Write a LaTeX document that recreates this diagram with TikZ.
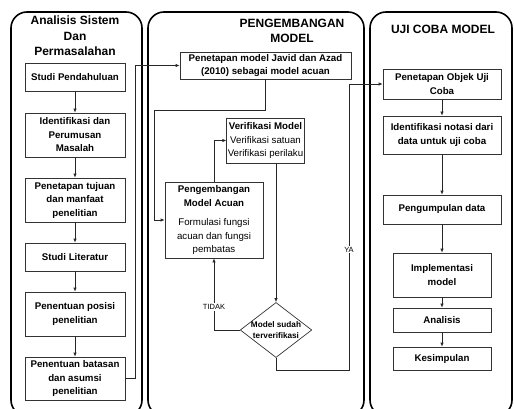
\documentclass[tikz,border=0pt]{standalone}
\usepackage{fontspec}
\setmainfont{Liberation Sans}
\usetikzlibrary{arrows.meta,shapes.geometric}

\begin{document}
\begin{tikzpicture}[x=1pt,y=-1pt,
  panel/.style={draw,line width=1.6pt,rounded corners=16pt},
  box/.style={draw=black!80,line width=0.7pt,align=center,inner sep=1pt,font=\fontsize{9.7}{13.5}\selectfont},
  bbox/.style={box,font=\fontsize{9.7}{13.5}\selectfont\bfseries},
  title/.style={align=center,font=\fontsize{12}{15.5}\selectfont\bfseries},
  decide/.style={draw=black!80,line width=0.7pt,diamond,aspect=1.3,inner sep=0pt,align=center,font=\fontsize{8.2}{10.5}\selectfont\bfseries},
  arr/.style={draw=black!85,line width=0.7pt,-{Latex[length=4pt,width=3.5pt]}},
  lbl/.style={fill=white,inner sep=1pt,font=\fontsize{7.5}{9}\selectfont}]
\useasboundingbox (0,0) rectangle (514,409);
\clip (0,0) rectangle (514,409);
\draw[panel] (11,12) rectangle (142,416);
\draw[panel] (148,12) rectangle (364,416);
\draw[panel] (370,12) rectangle (512,416);

\node[title] (t1) at (75,36) {Analisis Sistem\\Dan\\Permasalahan};
\node[title] (t2) at (292,31) {PENGEMBANGAN\\MODEL};
\node[title] (t3) at (443,29) {UJI COBA MODEL};

\node[bbox,minimum width=100pt,minimum height=28pt] (s1) at (75,77) {Studi Pendahuluan};
\node[bbox,minimum width=100pt,minimum height=44pt] (s2) at (75,135) {Identifikasi dan\\Perumusan\\Masalah};
\node[bbox,minimum width=100pt,minimum height=44pt] (s3) at (75,200) {Penetapan tujuan\\dan manfaat\\penelitian};
\node[bbox,minimum width=100pt,minimum height=28pt] (s4) at (75,257) {Studi Literatur};
\node[bbox,minimum width=100pt,minimum height=44pt] (s5) at (75,314) {Penentuan posisi\\penelitian};
\node[bbox,minimum width=100pt,minimum height=43pt] (s6) at (75,378.5) {Penentuan batasan\\dan asumsi\\penelitian};

\node[bbox,minimum width=171pt,minimum height=27pt] (m1) at (265.5,65.5) {Penetapan model Javid dan Azad\\(2010) sebagai model acuan};
\node[box,minimum width=75pt,minimum height=45pt] (m3) at (265.5,140.5) {\textbf{Verifikasi Model}\\Verifikasi satuan\\Verifikasi perilaku};
\node[box,minimum width=98pt,minimum height=76pt] (m2) at (214,220) {\textbf{Pengembangan}\\\textbf{Model Acuan}\\[6pt]Formulasi fungsi\\acuan dan fungsi\\pembatas};
\node[decide] (d) at (276,330) {Model sudah\\terverifikasi};

\node[bbox,minimum width=118pt,minimum height=30pt] (r1) at (442,84) {Penetapan Objek Uji\\Coba};
\node[bbox,minimum width=118pt,minimum height=38pt] (r2) at (442,135) {Identifikasi notasi dari\\data untuk uji coba};
\node[bbox,minimum width=118pt,minimum height=29pt] (r3) at (442,209.5) {Pengumpulan data};
\node[bbox,minimum width=98pt,minimum height=44pt] (r4) at (442,275) {Implementasi\\model};
\node[bbox,minimum width=98pt,minimum height=24pt] (r5) at (442,320) {Analisis};
\node[bbox,minimum width=98pt,minimum height=23pt] (r6) at (442,358.5) {Kesimpulan};

\coordinate (c0) at (135,378.5);
\coordinate (c1) at (154,110);
\coordinate (c2) at (349,370);

\draw[arr] (s1) -- (s2);
\draw[arr] (s2) -- (s3);
\draw[arr] (s3) -- (s4);
\draw[arr] (s4) -- (s5);
\draw[arr] (s5) -- (s6);
\draw[arr] (s6.east) -- (c0) |- (m1.west);
\draw[arr] (m1.south) |- (c1) |- (m2.west);
\draw[arr] (m2.north) |- (m3.west);
\draw[arr] (d.north |- m3.south) -- (d.north);
\draw[arr] (d.west) -| node[lbl,pos=0.66] {TIDAK} (m2.south);
\draw[arr] (d.south) |- (c2) |- node[lbl,pos=0.21] {YA} (r1.west);
\draw[arr] (r1) -- (r2);
\draw[arr] (r2) -- (r3);
\draw[arr] (r3) -- (r4);
\draw[arr] (r4) -- (r5);
\draw[arr] (r5) -- (r6);
\end{tikzpicture}
\end{document}
